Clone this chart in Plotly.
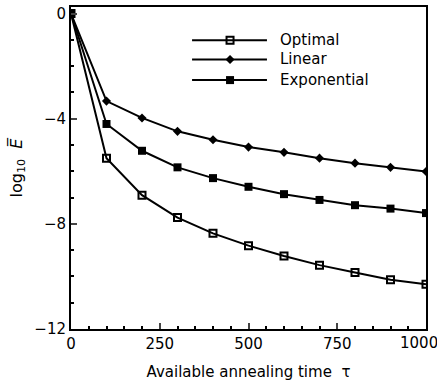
import plotly.graph_objects as go

tau = [0, 100, 200, 300, 400, 500, 600, 700, 800, 900, 1000]
linear = [0, -3.33, -3.97, -4.48, -4.80, -5.08, -5.28, -5.50, -5.69, -5.85, -6.01]
exponential = [0, -4.20, -5.22, -5.85, -6.26, -6.59, -6.87, -7.09, -7.29, -7.42, -7.59]
optimal = [0, -5.50, -6.91, -7.76, -8.36, -8.83, -9.22, -9.57, -9.85, -10.13, -10.30]

series_names = ["Optimal", "Linear", "Exponential"]
x_ticks = [0, 250, 500, 750, 1000]
x_ticktext = ["0", "250", "500", "750", ""]   # last label drawn separately so it stays inside the page
y_ticks = [0, -4, -8, -12]

FONT = "DejaVu Sans"
fig = go.Figure()

styles = {
    "Optimal": dict(symbol="square-open", size=7, color="black", line=dict(width=2, color="black")),
    "Linear": dict(symbol="diamond", size=7, color="black"),
    "Exponential": dict(symbol="square", size=8, color="black"),
}
data = {"Optimal": optimal, "Linear": linear, "Exponential": exponential}

for name in series_names:
    fig.add_trace(go.Scatter(x=tau, y=data[name], name=name, mode="lines+markers",
                             line=dict(color="black", width=2),
                             marker=styles[name], showlegend=False))

# hand-made legend (long sample lines as in the reference) on an overlay axis in plot-fraction units
leg_x0, leg_x1, leg_xm, leg_xt = 0.341, 0.552, 0.448, 0.583
leg_rows = [0.897, 0.837, 0.773]
for name, yr in zip(series_names, leg_rows):
    fig.add_trace(go.Scatter(x=[leg_x0, leg_x1], y=[yr, yr], mode="lines",
                             line=dict(color="black", width=2), xaxis="x2", yaxis="y2",
                             showlegend=False, hoverinfo="skip"))
    fig.add_trace(go.Scatter(x=[leg_xm], y=[yr], mode="markers", marker=styles[name],
                             xaxis="x2", yaxis="y2", showlegend=False, hoverinfo="skip"))
    fig.add_annotation(x=leg_xt, y=yr, xref="x2", yref="y2", text=name, showarrow=False,
                       xanchor="left", yanchor="middle", font=dict(family=FONT, size=15))

# last x tick label, nudged left like in the reference
fig.add_annotation(x=x_ticks[-1], y=0, xref="x", yref="paper", text=str(x_ticks[-1]),
                   showarrow=False, xanchor="center", yanchor="top", xshift=-7, yshift=-3,
                   font=dict(family=FONT, size=15))

fig.update_layout(
    width=437, height=386,
    margin=dict(l=71, r=11, t=7, b=57, autoexpand=False),
    paper_bgcolor="white", plot_bgcolor="white",
    font=dict(family=FONT, size=15, color="black"),
    showlegend=False,
    xaxis=dict(range=[0, 1000], tickvals=x_ticks, ticktext=x_ticktext, ticks="inside", ticklen=6,
               tickwidth=2, showline=True, linewidth=2, linecolor="black",
               mirror=True, showgrid=False, zeroline=False, automargin=False,
               minor=dict(dtick=50, ticks="inside", ticklen=3, tickwidth=1.5,
                          tickcolor="black", showgrid=False),
               title=dict(text="Available annealing time  τ", standoff=14,
                          font=dict(family=FONT, size=15))),
    yaxis=dict(range=[-12, 0.25], tickvals=y_ticks, ticks="inside", ticklen=6,
               tickwidth=2, showline=True, linewidth=2, linecolor="black",
               mirror=True, showgrid=False, zeroline=False, automargin=False,
               minor=dict(dtick=1, ticks="inside", ticklen=3, tickwidth=1.5,
                          tickcolor="black", showgrid=False),
               title=dict(text="log<sub>10</sub>  <i>E\u0305</i>", standoff=8,
                          font=dict(family=FONT, size=16))),
    xaxis2=dict(range=[0, 1], overlaying="x", visible=False, fixedrange=True),
    yaxis2=dict(range=[0, 1], overlaying="y", visible=False, fixedrange=True),
)

fig.write_html("out.html")
